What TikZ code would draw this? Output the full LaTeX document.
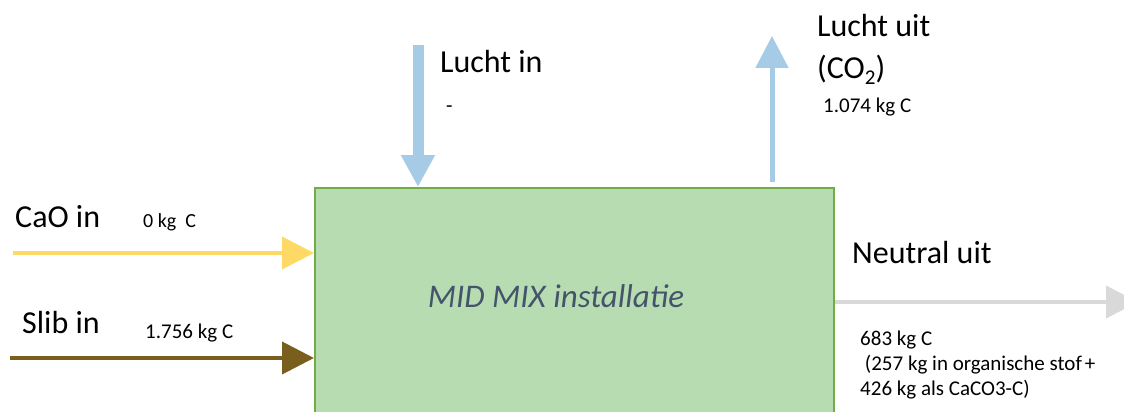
\documentclass[tikz,border=0pt]{standalone}
\usepackage{fontspec}
\setmainfont{Carlito}
\usetikzlibrary{arrows.meta}
\definecolor{boxfill}{RGB}{184,220,178}
\definecolor{boxline}{RGB}{112,173,71}
\definecolor{caoc}{RGB}{255,217,102}
\definecolor{slibc}{RGB}{122,94,30}
\definecolor{airc}{RGB}{166,203,230}
\definecolor{neutc}{RGB}{217,217,217}
\definecolor{boxtext}{RGB}{68,84,106}
\tikzset{
  big/.style={inner sep=0pt, anchor=base west, font=\fontsize{32}{38}\selectfont},
  small/.style={inner sep=0pt, anchor=base west, font=\fontsize{21}{25}\selectfont},
  flow/.style={-{Triangle[length=32pt,width=32pt]}},
}
\begin{document}
\begin{tikzpicture}[x=1pt,y=-1pt]
\useasboundingbox (0,0) rectangle (1124,412);
\node[draw=boxline, fill=boxfill, line width=2pt, minimum width=519pt, minimum height=252pt, inner sep=0pt] (box) at (574.5,314) {};
\node[inner sep=0pt, anchor=base, text=boxtext, font=\fontsize{33}{38}\selectfont\itshape] (boxlabel) at (556,307) {MID MIX installatie};

% coordinates
\coordinate (caostart) at (13,253);
\coordinate (slibstart) at (10,358);
\coordinate (airinstart) at (418,45);
\coordinate (airouttip) at (772,36);
\coordinate (airoutstart) at (772,182);
\coordinate (neuttip) at (1138,302);

% arrows
\draw[flow, draw=caoc, fill=caoc, line width=4pt] (caostart) -- (caostart -| box.west);
\draw[flow, draw=slibc, fill=slibc, line width=4pt] (slibstart) -- (slibstart -| box.west);
\draw[flow, draw=airc, fill=airc, line width=11pt] (airinstart) -- (airinstart |- box.north);
\draw[flow, draw=airc, fill=airc, line width=5pt] (airoutstart) -- (airouttip);
\draw[flow, draw=neutc, fill=neutc, line width=4pt] (neuttip -| box.east) -- (neuttip);

% labels
\node[big] (caoin) at (15,227) {CaO in};
\node[small, font=\fontsize{20}{24}\selectfont] (caoval) at (143,227) {0 kg\ \ C};
\node[big] (slibin) at (22,333) {Slib in};
\node[small] (slibval) at (145,338) {1.756 kg C};
\node[big] (luchtin) at (440,72) {Lucht in};
\node[small] (luchtinval) at (446,112) {-};
\node[big] (luchtuit) at (817,37) {Lucht uit};
\node[big] (co2) at (817,78) {(CO\raisebox{-6pt}{\fontsize{21}{24}\selectfont 2})};
\node[small] (luchtuitval) at (823,112) {1.074 kg C};
\node[big] (neutuit) at (852,263) {Neutral uit};
\node[small] (neut1) at (860,345) {683 kg C};
\node[small] (neut2) at (860,370) {\ (257 kg in organische stof\kern3pt+};
\node[small] (neut3) at (860,395) {426 kg als CaCO3-C)};
\end{tikzpicture}
\end{document}
